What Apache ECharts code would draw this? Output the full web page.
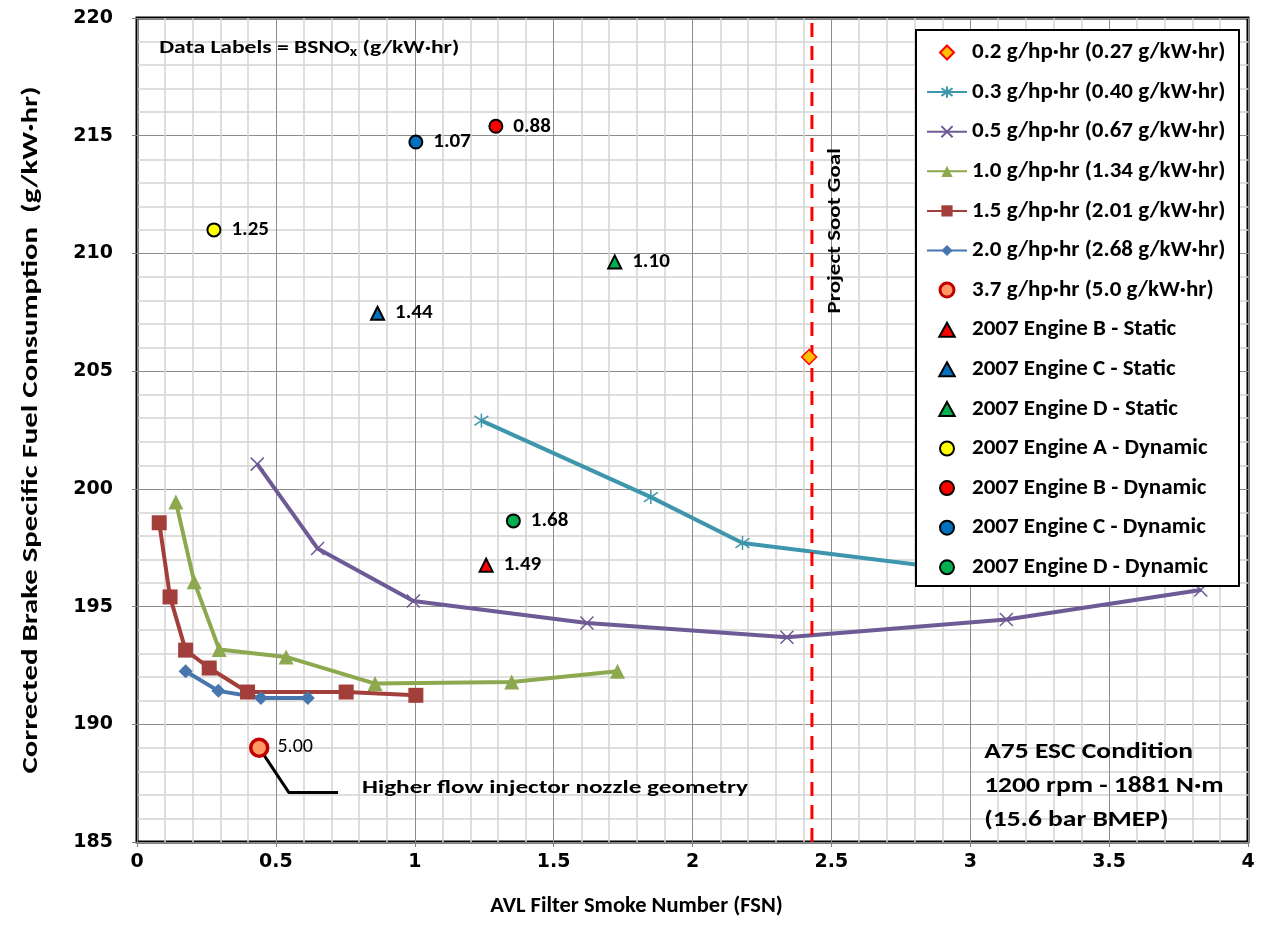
<!DOCTYPE html>
<html>
<head>
<meta charset="utf-8">
<script src="https://cdn.jsdelivr.net/npm/echarts@6/dist/echarts.min.js"></script>
<style>
html,body{margin:0;padding:0;background:#fff;}
#chart{width:1262px;height:948px;}
</style>
</head>
<body>
<div id="chart"></div>
<script>
// ---------- DATA ----------
const xMin = 0, xMax = 4, xStep = 0.5;
const yMin = 185, yMax = 220, yStep = 5;

const seriesNames = [
  '0.2 g/hp\u00B7hr (0.27 g/kW\u00B7hr)',
  '0.3 g/hp\u00B7hr (0.40 g/kW\u00B7hr)',
  '0.5 g/hp\u00B7hr (0.67 g/kW\u00B7hr)',
  '1.0 g/hp\u00B7hr (1.34 g/kW\u00B7hr)',
  '1.5 g/hp\u00B7hr (2.01 g/kW\u00B7hr)',
  '2.0 g/hp\u00B7hr (2.68 g/kW\u00B7hr)',
  '3.7 g/hp\u00B7hr (5.0 g/kW\u00B7hr)',
  '2007 Engine B - Static',
  '2007 Engine C - Static',
  '2007 Engine D - Static',
  '2007 Engine A - Dynamic',
  '2007 Engine B - Dynamic',
  '2007 Engine C - Dynamic',
  '2007 Engine D - Dynamic'
];

const nox02 = [[2.42, 205.6]];
const nox03 = [[1.24, 202.9], [1.85, 199.65], [2.18, 197.7], [3.0, 196.5]];
const nox05 = [[0.433, 201.05], [0.65, 197.47], [0.995, 195.24], [1.62, 194.3], [2.34, 193.7], [3.13, 194.45], [3.83, 195.7]];
const nox10 = [[0.14, 199.44], [0.206, 196.05], [0.296, 193.18], [0.537, 192.86], [0.857, 191.73], [1.349, 191.8], [1.73, 192.25]];
const nox15 = [[0.08, 198.56], [0.119, 195.41], [0.175, 193.15], [0.26, 192.39], [0.398, 191.37], [0.753, 191.37], [1.004, 191.23]];
const nox20 = [[0.175, 192.25], [0.293, 191.42], [0.446, 191.12], [0.615, 191.12]];
const nox37 = [[0.44, 189.0, '5.00']];
const engBStatic = [[1.257, 196.76, '1.49']];
const engCStatic = [[0.866, 207.46, '1.44']];
const engDStatic = [[1.72, 209.64, '1.10']];
const engADyn = [[0.277, 211.0, '1.25']];
const engBDyn = [[1.292, 215.4, '0.88']];
const engCDyn = [[1.004, 214.73, '1.07']];
const engDDyn = [[1.355, 198.64, '1.68']];

const sootGoalX = 2.43;
const sootGoalLine = [[sootGoalX, yMin], [sootGoalX, yMax]];
const leaderLine = [[0.44, 189.0], [0.547, 187.1], [0.724, 187.1]];
const leaderText = 'Higher flow injector nozzle geometry';
const conditionText = ['A75 ESC Condition', '1200 rpm - 1881 N\u00B7m', '(15.6 bar BMEP)'];
const xTitle = 'AVL Filter Smoke Number (FSN)';
const yTitle = 'Corrected Brake Specific Fuel Consumption  (g/kW\u00B7hr)';

// ---------- STYLE ----------
const TF = 'Carlito, Lato, sans-serif';
const NF = '"DejaVu Sans", Verdana, sans-serif';
const starPath = 'path://M5,0L5,10M0.8,1.6L9.2,8.4M9.2,1.6L0.8,8.4';
const xPath = 'path://M0,0L10,10M10,0L0,10';
const triPath = 'path://M5,0L10,9L0,9Z';
const diaPath = 'path://M5,0L10,5L5,10L0,5Z';

const dataLabel = {
  show: true, position: 'right', distance: 10,
  formatter: p => p.data[2],
  fontFamily: TF, fontWeight: 'bold', fontSize: 21, color: '#000'
};

function lineSeries(name, data, color, symbol, size, extraItem) {
  return {
    name, type: 'line', data, symbol, symbolSize: size,
    lineStyle: { color, width: 4 },
    itemStyle: Object.assign({ color, borderColor: color, borderWidth: 0 }, extraItem || {}),
    z: 3, animation: false
  };
}
function scatterSeries(name, data, color, symbol, size, border, bw, withLabel) {
  return {
    name, type: 'scatter', data, symbol, symbolSize: size,
    itemStyle: { color, borderColor: border, borderWidth: bw, opacity: 1 },
    label: withLabel ? dataLabel : { show: false },
    z: 5, animation: false
  };
}

const chart = echarts.init(document.getElementById('chart'), null, { renderer: 'canvas' });

const legendData = seriesNames.map((n, i) => i === 6
  ? { name: n, itemStyle: { borderWidth: 3, borderColor: '#C00000' } }
  : { name: n });

const option = {
  backgroundColor: '#fff',
  animation: false,
  grid: {
    left: 137, top: 18, right: 14, bottom: 106,
    show: true, borderColor: '#000', borderWidth: 3, backgroundColor: 'transparent'
  },
  xAxis: {
    type: 'value', min: xMin, max: xMax, interval: xStep,
    name: xTitle, nameLocation: 'middle', nameGap: 53,
    nameTextStyle: { fontFamily: TF, fontWeight: 'bold', fontSize: 22.5, color: '#000', padding: [0, 112, 0, 0] },
    axisLine: { show: false },
    axisTick: { show: true, length: 5, lineStyle: { color: '#808080' } },
    axisLabel: { fontFamily: NF, fontWeight: 'bold', fontSize: 19, color: '#000', margin: 11 },
    splitLine: { show: true, lineStyle: { color: '#8c8c8c', width: 1 } },
    minorTick: { show: false, splitNumber: 5 },
    minorSplitLine: { show: true, lineStyle: { color: '#d4d4d4', width: 1.5 } }
  },
  yAxis: {
    type: 'value', min: yMin, max: yMax, interval: yStep,
    axisLine: { show: false },
    axisTick: { show: true, length: 5, lineStyle: { color: '#808080' } },
    axisLabel: { fontFamily: NF, fontWeight: 'bold', fontSize: 19, color: '#000', margin: 24 },
    splitLine: { show: true, lineStyle: { color: '#8c8c8c', width: 1 } },
    minorTick: { show: false, splitNumber: 5 },
    minorSplitLine: { show: true, lineStyle: { color: '#d4d4d4', width: 1.5 } }
  },
  legend: {
    orient: 'vertical', left: 926, top: 41, z: 20,
    data: legendData,
    itemWidth: 40, itemHeight: 14, itemGap: 16.6, itemTextGap: 2,
    padding: 0, symbolKeepAspect: true,
    textStyle: { fontFamily: TF, fontWeight: 'bold', fontSize: 23, color: '#000', lineHeight: 23 },
    selectedMode: false
  },
  series: [
    scatterSeries(seriesNames[0], nox02, '#FFC000', diaPath, 15, '#FF0000', 1.5, false),
    lineSeries(seriesNames[1], nox03, '#3D96AB', starPath, 14, { borderColor: '#3D96AB', borderWidth: 1.5 }),
    lineSeries(seriesNames[2], nox05, '#6E5A94', xPath, 13, { borderColor: '#6E5A94', borderWidth: 1.5 }),
    lineSeries(seriesNames[3], nox10, '#8DA94F', 'triangle', 15),
    lineSeries(seriesNames[4], nox15, '#A23F3B', 'rect', 15),
    lineSeries(seriesNames[5], nox20, '#4775AE', 'diamond', 14),
    Object.assign(scatterSeries(seriesNames[6], nox37, '#FF9966', 'circle', 17, '#C00000', 3.5, true),
      { label: Object.assign({}, dataLabel, { fontSize: 20, fontWeight: 'normal', distance: 8, offset: [0, -1] }) }),
    scatterSeries(seriesNames[7], engBStatic, '#FF0000', triPath, 13, '#000', 2, true),
    scatterSeries(seriesNames[8], engCStatic, '#0070C0', triPath, 13, '#000', 2, true),
    scatterSeries(seriesNames[9], engDStatic, '#00B050', triPath, 13, '#000', 2, true),
    scatterSeries(seriesNames[10], engADyn, '#FFFF00', 'circle', 13, '#000', 2, true),
    scatterSeries(seriesNames[11], engBDyn, '#FF0000', 'circle', 13, '#000', 2, true),
    scatterSeries(seriesNames[12], engCDyn, '#0070C0', 'circle', 13, '#000', 2, true),
    scatterSeries(seriesNames[13], engDDyn, '#00B050', 'circle', 13, '#000', 2, true),
    {
      name: 'Project Soot Goal', type: 'line', data: sootGoalLine, symbol: 'none',
      lineStyle: { color: '#FF0000', width: 3, type: [14, 9] }, z: 4, animation: false, silent: true
    },
    {
      name: 'leader', type: 'line', data: leaderLine, symbol: 'none',
      lineStyle: { color: '#000', width: 3 }, z: 4, animation: false, silent: true
    }
  ]
};
chart.setOption(option);

// ---------- ANNOTATIONS (positioned through the axes) ----------
const px = (x, y) => chart.convertToPixel({ gridIndex: 0 }, [x, y]);
const pGoal = px(sootGoalX, 210.96);
const pLead = px(0.81, 187.28);
const pCond = px(3.05, 189.53);
const pNote = px(0.08, 218.7);
const pYT = px(0, 202.5);
chart.setOption({
  graphic: [
    { type: 'rect', z: 10, shape: { x: 916, y: 30, width: 323, height: 556 },
      style: { fill: '#fff', stroke: '#000', lineWidth: 2 } },
    { type: 'text', z: 12, x: pYT[0] - 106, y: pYT[1], rotation: Math.PI / 2, scaleX: 1.4, scaleY: 1,
      style: { text: yTitle, fontFamily: TF, fontWeight: 'bold', fontSize: 22, fill: '#000',
        align: 'center', verticalAlign: 'middle' } },
    { type: 'text', z: 12, x: pGoal[0] + 24, y: pGoal[1], rotation: Math.PI / 2, scaleX: 1.35, scaleY: 1,
      style: { text: 'Project Soot Goal', fontFamily: TF, fontWeight: 'bold', fontSize: 17, fill: '#000',
        align: 'center', verticalAlign: 'middle' } },
    { type: 'text', z: 12, x: pLead[0], y: pLead[1], scaleX: 1.33, scaleY: 1,
      style: { text: leaderText, fontFamily: TF, fontWeight: 'bold', fontSize: 19, fill: '#000',
        align: 'left', verticalAlign: 'middle' } },
    { type: 'text', z: 12, x: pCond[0], y: pCond[1], scaleX: 1.25, scaleY: 1,
      style: { text: conditionText.join('\n'), fontFamily: TF, fontWeight: 'bold', fontSize: 22, lineHeight: 34,
        fill: '#000', align: 'left', verticalAlign: 'top' } },
    { type: 'text', z: 12, x: pNote[0], y: pNote[1], scaleX: 1.24, scaleY: 1,
      style: { text: '{a|Data Labels = BSNO}{s|x}{a| (g/kW\u00B7hr)}', fill: '#000', align: 'left', verticalAlign: 'middle',
        rich: {
          a: { fontFamily: TF, fontWeight: 'bold', fontSize: 19, fill: '#000' },
          s: { fontFamily: TF, fontWeight: 'bold', fontSize: 13, fill: '#000', padding: [9, 0, 0, 0] }
        } } }
  ]
});
</script>
</body>
</html>
